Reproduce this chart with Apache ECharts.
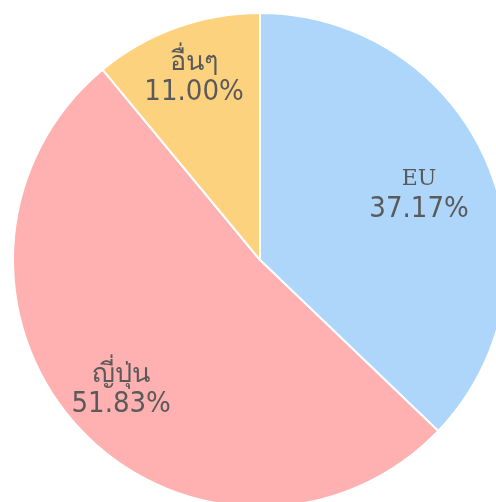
<!DOCTYPE html>
<html>
<head>
<meta charset="utf-8">
<script src="https://cdn.jsdelivr.net/npm/echarts@6/dist/echarts.min.js"></script>
<style>
  html, body { margin: 0; padding: 0; background: #fff; }
  #chart { width: 496px; height: 502px; }
</style>
</head>
<body>
<div id="chart"></div>
<script>
const names = ["EU", "ญี่ปุ่น", "อื่นๆ"];
const values = [37.17, 51.83, 11.0];
const colors = ["#aed6fb", "#ffb0b0", "#fdd27f"];

const chart = echarts.init(document.getElementById("chart"));

const cx = 260, cy = 260;
// distance of each label from the pie centre
const labelDist = [172, 190, 194];

const option = {
  animation: false,
  series: [
    {
      type: "pie",
      center: [cx, cy],
      radius: [0, 247],
      startAngle: 90,
      clockwise: true,
      silent: true,
      itemStyle: {
        borderColor: "#fff",
        borderWidth: 2
      },
      label: {
        position: "inside",
        formatter: p => {
          // latin names use the smaller serif face, thai names a bigger one
          const key = /^[A-Za-z]+$/.test(p.name) ? "n" : "t";
          return "{" + key + "|" + p.name + "}\n{v|" + p.value.toFixed(2) + "%}";
        },
        rich: {
          n: {
            fontFamily: "DejaVu Serif, serif",
            fontSize: 22,
            color: "#5a5a5a",
            lineHeight: 30
          },
          t: {
            fontFamily: "DejaVu Sans, sans-serif",
            fontSize: 27,
            color: "#5a5a5a",
            lineHeight: 30
          },
          v: {
            fontFamily: "DejaVu Sans Condensed, DejaVu Sans",
            fontSize: 29,
            color: "#5a5a5a",
            lineHeight: 30
          }
        }
      },
      labelLine: { show: false },
      labelLayout: params => {
        const r = params.labelRect;
        const lx = r.x + r.width / 2 - cx;
        const ly = r.y + r.height / 2 - cy;
        const len = Math.sqrt(lx * lx + ly * ly) || 1;
        const d = labelDist[params.dataIndex];
        return { x: cx + lx / len * d, y: cy + ly / len * d };
      },
      data: names.map((n, i) => ({
        name: n,
        value: values[i],
        itemStyle: { color: colors[i] }
      }))
    }
  ]
};

option && chart.setOption(option);
</script>
</body>
</html>
